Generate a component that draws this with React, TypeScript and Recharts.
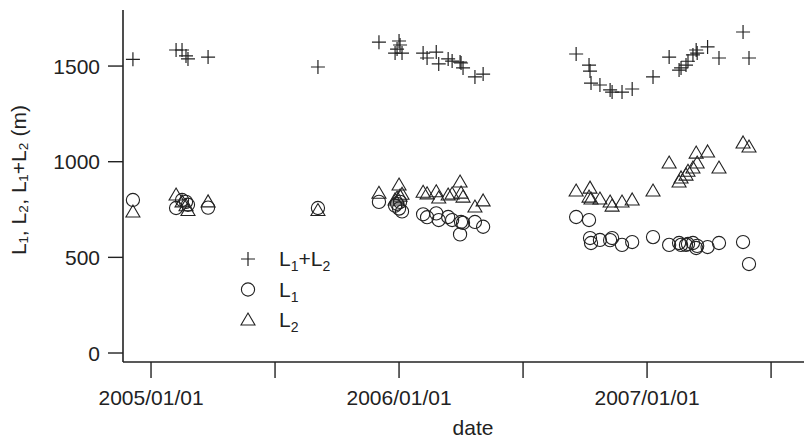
import { Legend, Scatter, ScatterChart, XAxis, YAxis } from 'recharts'

// sampling dates as decimal years, one entry per survey
const dates = [
  2004.927, 2005.101, 2005.125, 2005.141, 2005.149, 2005.23, 2005.673,
  2005.919, 2005.984, 2005.992, 2006.0, 2006.004, 2006.012, 2006.097, 2006.113, 2006.15, 2006.16,
  2006.198, 2006.214, 2006.246, 2006.25, 2006.258, 2006.306, 2006.339,
  2006.714, 2006.766, 2006.77, 2006.774, 2006.81, 2006.851, 2006.859, 2006.899, 2006.94, 2007.024,
  2007.089, 2007.129, 2007.137, 2007.157, 2007.165, 2007.185, 2007.198, 2007.202, 2007.244, 2007.29,
  2007.387, 2007.411,
]

const sumValues = [
  1535, 1584, 1584, 1553, 1537, 1547, 1495,
  1625, 1568, 1589, 1631, 1610, 1568, 1568, 1542, 1573, 1511,
  1537, 1526, 1521, 1516, 1490, 1443, 1458,
  1563, 1505, 1474, 1411, 1401, 1375, 1364, 1364, 1380, 1443,
  1547, 1479, 1490, 1505, 1525, 1558, 1584, 1568, 1600, 1542,
  1678, 1542,
]

const l1Values = [
  800, 758, 800, 790, 775, 760, 758,
  790, 770, 780, 755, 790, 740, 725, 710, 730, 695,
  711, 695, 620, 685, 680, 685, 660,
  711, 695, 601, 575, 591, 590, 601, 565, 580, 606,
  565, 575, 565, 565, 570, 575, 549, 560, 554, 575,
  580, 465,
]

const l2Values = [
  737, 826, 790, 770, 745, 790, 745,
  835, 800, 810, 878, 820, 830, 840, 832, 843, 810,
  826, 831, 894, 836, 815, 763, 795,
  847, 815, 862, 805, 805, 789, 768, 789, 800, 847,
  993, 894, 915, 930, 950, 967, 1045, 993, 1051, 967,
  1098, 1077,
]

const xTicks = [2005, 2005.5, 2006, 2006.5, 2007, 2007.5]
const yTicks = [0, 500, 1000, 1500]

const INK = '#222'
const FONT = '"Liberation Sans", Arial, sans-serif'
const FS = 21
const Y_AXIS_W = 115

const toPoints = (values: number[]) => dates.map((date, i) => ({ date, value: values[i] }))

const sumPoints = toPoints(sumValues)
const l1Points = toPoints(l1Values)
const l2Points = toPoints(l2Values)

function Plus({ cx, cy }: any) {
  return (
    <path
      d={`M${cx - 7},${cy}H${cx + 7}M${cx},${cy - 7}V${cy + 7}`}
      stroke={INK}
      strokeWidth={1.2}
      fill="none"
    />
  )
}

function Ring({ cx, cy }: any) {
  return <circle cx={cx} cy={cy} r={6.6} fill="none" stroke={INK} strokeWidth={1.1} />
}

function Tri({ cx, cy }: any) {
  return (
    <path
      d={`M${cx},${cy - 7}L${cx + 7},${cy + 5}L${cx - 7},${cy + 5}Z`}
      fill="none"
      stroke={INK}
      strokeWidth={1.1}
    />
  )
}

function SubLabel({ x, y, parts }: { x: number; y: number; parts: [string, string][] }) {
  return (
    <text x={x} y={y} fontFamily={FONT} fontSize={FS} fill={INK}>
      {parts.map(([main, sub], i) => (
        <tspan key={i}>
          <tspan dy={i === 0 ? 0 : -5}>{main}</tspan>
          {sub ? (
            <tspan dy={5} fontSize={14}>
              {sub}
            </tspan>
          ) : null}
        </tspan>
      ))}
    </text>
  )
}

function LegendBox() {
  const rows = [
    { Mark: Plus, parts: [['L', '1'], ['+L', '2']] as [string, string][] },
    { Mark: Ring, parts: [['L', '1']] as [string, string][] },
    { Mark: Tri, parts: [['L', '2']] as [string, string][] },
  ]
  return (
    <svg width={130} height={95}>
      {rows.map((row, i) => {
        const cy = 15 + i * 30.5
        return (
          <g key={i}>
            <row.Mark cx={20} cy={cy} />
            <SubLabel x={51} y={cy + 7} parts={row.parts} />
          </g>
        )
      })}
    </svg>
  )
}

function YLabel() {
  return (
    <text
      transform="translate(18,172) rotate(-90)"
      textAnchor="middle"
      fontFamily={FONT}
      fontSize={FS}
      fill={INK}
    >
      {'L\u2081, L\u2082, L\u2081+L\u2082  (m)'}
    </text>
  )
}

function XLabel() {
  return (
    <text x={465} y={427} textAnchor="middle" fontFamily={FONT} fontSize={FS} fill={INK}>
      date
    </text>
  )
}

// y ticks drawn by hand so the long outward tick and label gap match the original
function YTick({ y, payload }: any) {
  return (
    <g>
      <line x1={Y_AXIS_W - 15} x2={Y_AXIS_W} y1={y} y2={y} stroke={INK} strokeWidth={1.4} />
      <text
        x={Y_AXIS_W - 23}
        y={y}
        dy="0.36em"
        textAnchor="end"
        fontFamily={FONT}
        fontSize={FS}
        fill={INK}
      >
        {payload.value}
      </text>
    </g>
  )
}

const tickStyle = { fontSize: FS, fill: INK, fontFamily: FONT }

export default function App() {
  return (
    <div style={{ width: 804, height: 431, background: '#fff' }}>
      <ScatterChart width={804} height={431} margin={{ top: 2, right: 0, bottom: 0, left: 0 }}>
        <XAxis
          type="number"
          dataKey="date"
          domain={[2004.887, 2007.665]}
          ticks={xTicks}
          allowDataOverflow
          height={77}
          tickSize={16}
          tickMargin={12}
          tick={tickStyle}
          axisLine={{ stroke: INK, strokeWidth: 1.6 }}
          tickLine={{ stroke: INK, strokeWidth: 1.4 }}
          tickFormatter={(v: number) => (Number.isInteger(v) ? `${v}/01/01` : '')}
          label={{ content: () => <XLabel /> }}
        />
        <YAxis
          type="number"
          dataKey="value"
          domain={[-47, 1793]}
          ticks={yTicks}
          allowDataOverflow
          width={Y_AXIS_W}
          tickLine={false}
          tick={<YTick />}
          axisLine={{ stroke: INK, strokeWidth: 1.6 }}
          label={{ content: () => <YLabel /> }}
        />
        <Legend
          layout="vertical"
          align="center"
          verticalAlign="middle"
          wrapperStyle={{ left: 220, top: 236, width: 130 }}
          content={() => <LegendBox />}
        />
        <Scatter name="L1+L2" data={sumPoints} shape={Plus} isAnimationActive={false} />
        <Scatter name="L1" data={l1Points} shape={Ring} isAnimationActive={false} />
        <Scatter name="L2" data={l2Points} shape={Tri} isAnimationActive={false} />
      </ScatterChart>
    </div>
  )
}
